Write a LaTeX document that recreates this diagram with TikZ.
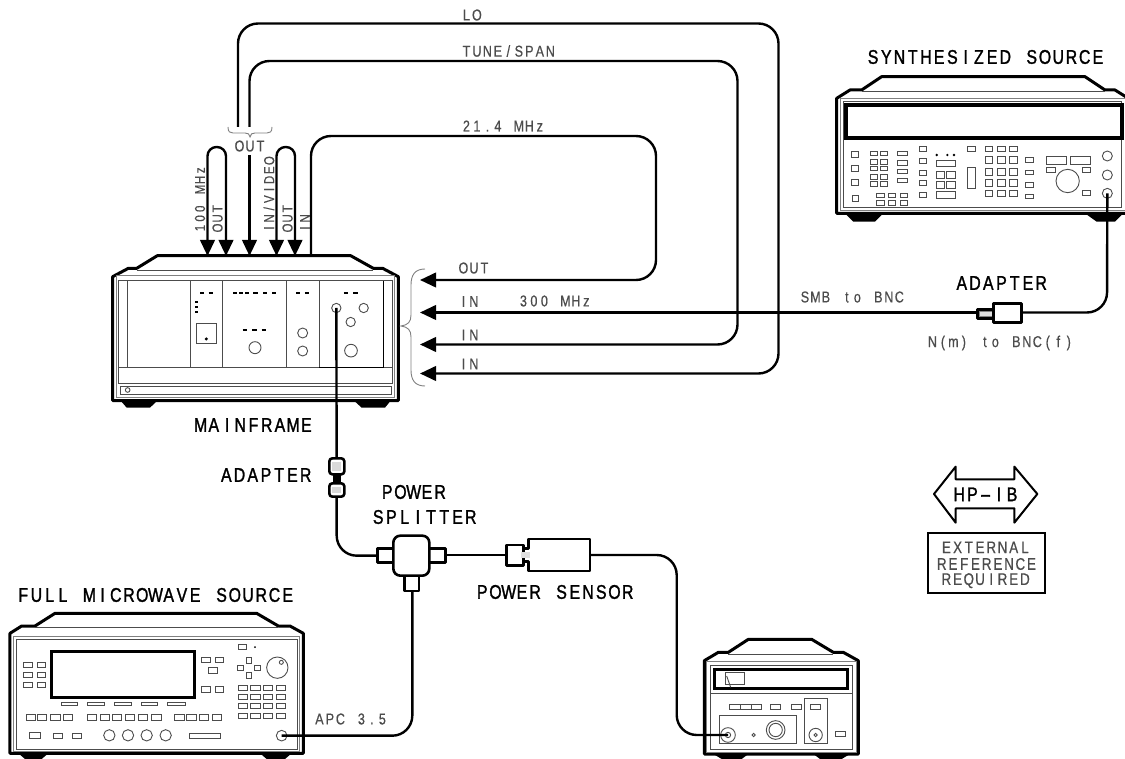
\documentclass[tikz,border=0pt]{standalone}
\usepackage{fontspec}
\setmainfont[FakeStretch=0.8,FakeBold=0.5]{Liberation Sans}
\newfontfamily\bigplotfont[FakeStretch=0.8,FakeBold=1.4]{Liberation Sans}
\usetikzlibrary{arrows.meta}
\definecolor{finegray}{gray}{0.3}
\definecolor{labgray}{gray}{0.3}
% plotter lettering: every character sits in a cell of the same width
\def\plotchars#1{\ifx#1\relax\else\makebox[0.668em][c]{#1}\expandafter\plotchars\fi}
\def\plotword#1 #2\plotend{\plotchars#1\relax\ifx\relax#2\relax\else\makebox[0.668em]{}\plotword#2\plotend\fi}
\newcommand{\plotstr}[1]{\plotword#1 \plotend}
\tikzset{
  biglab/.style={inner sep=0pt,text=black,font=\bigplotfont\fontsize{19.8}{22}\selectfont},
  smalllab/.style={inner sep=0pt,text=labgray,font=\fontsize{15.7}{18}\selectfont},
  boxlab/.style={inner sep=0pt,text=labgray,font=\fontsize{16.8}{18}\selectfont},
  leftlab/.style={smalllab,anchor=west,xshift=-1pt},
  vertlab/.style={inner sep=0pt,text=labgray,font=\fontsize{14.4}{17}\selectfont,rotate=90,anchor=west},
  casing/.style={draw=black,line width=3pt,line join=round,fill=white},
  fine/.style={draw=finegray,line width=0.9pt},
  grayline/.style={draw=gray,line width=1pt},
  footing/.style={fill=black,draw=none},
  dashmark/.style={draw=black,line width=1.9pt},
  dispframe/.style={draw=black,line width=4pt},
  cable/.style={draw=black,line width=2.4pt,line join=round},
  arrowcable/.style={cable,-{Triangle[length=16pt,width=14.5pt]}},
  bothcable/.style={cable,{Triangle[length=16pt,width=14.5pt]}-{Triangle[length=16pt,width=14.5pt]}},
  bracket/.style={draw=gray,line width=0.9pt},
  fitting/.style={draw=black,line width=2.6pt,fill=white,line join=round},
  zoomed/.style={shift={#1},x=0.33333pt,y=-0.33333pt}
}
\newcommand{\panelboxes}[1]{\foreach \a/\b/\c/\d in {#1} \draw[fine] (\a,\b) rectangle (\c,\d);}
\newcommand{\panelrings}[1]{\foreach \a/\b/\r in {#1} \draw[fine] (\a,\b) circle (\r);}
\newcommand{\paneldashes}[1]{\foreach \a/\c/\b in {#1} \draw[dashmark] (\a,\b) -- (\c,\b);}
\begin{document}
\begin{tikzpicture}[x=1pt,y=-1pt]
\useasboundingbox (0,0) rectangle (1125,759);
\clip (0,0) rectangle (1125,759);
\fill[white] (0,0) rectangle (1125,759);

% ---------- mainframe
\begin{scope}[zoomed={(100,240)}]
\fill[footing] (62,482) -- (172,482) -- (150,503) -- (80,503) -- cycle;
\fill[footing] (762,482) -- (872,482) -- (855,503) -- (785,503) -- cycle;
\draw[casing] (38,110) -- (85,85) -- (110,85) -- (172,47) -- (752,47) -- (820,85) -- (848,85) -- (895,110) -- (895,482) -- (38,482) -- cycle;
\draw[fine] (110,90) -- (820,90);
\draw[grayline] (48,108) -- (885,108) -- (885,473) -- (48,473) -- cycle;
\draw[fine] (55,122) rectangle (878,430);
\foreach \x in {82,272,367,560,658} \draw[fine] (\x,122) -- (\x,382);
\draw[fine] (55,382) -- (658,382);
\draw[fine] (658,382) -- (878,382);
\draw[draw=black,line width=1.3pt] (658,382) -- (850,382) -- (850,122);
\panelboxes{62/438/875/462, 290/250/350/310}
\panelrings{83/450/7, 465/323/18, 608/279/15, 608/333/15, 709/204/14, 791/204/14, 752/246/14, 753/332/19}
\paneldashes{300/312/160, 326/338/160, 285/295/185, 285/295/201, 285/295/217, 400/412/160, 418/430/160, 436/448/160, 460/475/160, 490/502/160, 516/528/160, 428/442/270, 457/470/270, 485/498/270, 588/600/160, 615/627/160, 732/745/160, 760/773/160}
\fill[black] (319,297) circle (5);
\coordinate (mfconn) at (709,204);
\end{scope}

% ---------- synthesized source
\begin{scope}[zoomed={(820,40)}]
\fill[footing] (75,520) -- (190,520) -- (165,545) -- (100,545) -- cycle;
\fill[footing] (795,520) -- (910,520) -- (885,545) -- (830,545) -- cycle;
\draw[casing] (50,175) -- (90,150) -- (125,150) -- (185,110) -- (795,110) -- (855,150) -- (885,150) -- (925,175) -- (925,520) -- (50,520) -- cycle;
\draw[fine] (125,155) -- (855,155);
\draw[grayline] (60,175) -- (915,175) -- (915,512) -- (60,512) -- cycle;
\draw[fine] (70,185) rectangle (905,503);
\draw[dispframe] (78,194) rectangle (905,294);
\panelboxes{93/333/115/353, 93/375/115/395, 93/417/115/437, 98/465/116/483,
150/333/172/347, 180/333/203/347, 150/358/172/372, 180/358/203/372, 150/378/172/392, 180/378/203/392, 150/403/172/417, 180/403/203/417, 150/425/172/439, 180/425/203/439,
232/335/262/347, 232/362/262/375, 232/388/262/401, 232/414/262/428,
298/320/318/335, 298/355/318/370, 298/390/318/405, 298/422/318/437, 298/458/318/473,
348/362/405/380, 350/395/373/415, 380/395/405/415, 350/425/373/445, 380/425/405/445, 348/455/405/475,
443/320/465/335, 443/383/465/445,
495/320/518/333, 532/320/555/333, 568/320/592/333,
495/350/518/370, 532/350/555/370, 568/350/592/370, 495/385/518/405, 532/385/555/405, 568/385/592/405, 495/418/518/438, 532/418/555/438, 568/418/592/438, 495/450/518/470, 532/450/555/470, 568/450/592/470,
615/352/640/366, 615/390/640/403, 615/428/640/441, 615/462/640/475,
680/350/738/372, 752/350/810/372, 680/383/705/397, 787/383/810/397, 787/450/810/465,
170/460/192/473, 205/460/227/473, 240/460/262/473, 170/482/192/497, 205/482/227/497, 240/482/262/497}
\panelrings{743/423/35, 862/348/15, 862/405/15, 862/460/15}
\foreach \x in {350,382,402} \fill[black] (\x,345) circle (4);
\coordinate (synconn) at (862,460);
\end{scope}

% ---------- full microwave source
\begin{scope}[zoomed={(0,570)}]
\fill[footing] (55,550) -- (145,550) -- (125,567) -- (75,567) -- cycle;
\fill[footing] (780,550) -- (875,550) -- (855,567) -- (800,567) -- cycle;
\draw[casing] (30,190) -- (65,168) -- (105,168) -- (165,130) -- (770,130) -- (835,168) -- (870,168) -- (910,190) -- (910,550) -- (30,550) -- cycle;
\draw[fine] (105,172) -- (835,172);
\draw[grayline] (40,198) -- (900,198) -- (900,545) -- (40,545) -- cycle;
\draw[fine] (48,207) rectangle (893,538);
\draw[draw=black,line width=3pt] (155,243) rectangle (585,381);
\panelboxes{70/277/97/291, 112/277/137/291, 70/307/97/321, 112/307/137/321, 70/337/97/351, 112/337/137/351,
605/263/632/277, 645/263/670/277, 625/293/652/309, 605/350/632/366, 645/350/670/366,
183/397/233/407, 263/397/313/407, 343/397/393/407, 423/397/473/407, 503/397/555/407,
78/433/105/450, 112/433/140/450, 150/433/180/450, 190/433/218/450,
263/433/290/450, 300/433/328/450, 337/433/365/450, 375/433/403/450, 415/433/443/450, 455/433/485/450,
523/433/552/450, 560/433/588/450, 597/433/625/450, 637/433/665/450,
88/488/120/505, 160/490/187/505, 218/490/243/505, 568/490/660/505,
715/223/740/238, 738/263/754/279, 712/287/730/302, 763/287/781/302, 738/308/754/324}
\foreach \x in {715,752,790,828} \foreach \y in {347,373,400,430} \draw[fine] (\x,\y) rectangle ++(28,15);
\panelrings{328/496/17, 384/496/17, 440/496/17, 497/496/17, 845/497/16, 832/293/32, 844/277/6}
\fill[black] (765,231) circle (3);
\coordinate (mwconn) at (845,497);
\end{scope}

% ---------- power meter
\begin{scope}[zoomed={(660,600)}]
\fill[footing] (160,462) -- (265,462) -- (245,477) -- (185,477) -- cycle;
\fill[footing] (460,462) -- (570,462) -- (545,477) -- (480,477) -- cycle;
\draw[casing] (133,182) -- (175,157) -- (205,157) -- (265,118) -- (455,118) -- (520,157) -- (550,157) -- (595,182) -- (595,462) -- (133,462) -- cycle;
\draw[fine] (205,162) -- (520,162);
\draw[grayline] (140,185) -- (588,185) -- (588,456) -- (140,456) -- cycle;
\draw[fine] (150,197) rectangle (578,448);
\draw[draw=black,line width=3pt] (163,208) rectangle (563,266);
\draw[fine] (150,280) -- (578,280);
\draw[fine] (196,217) rectangle (254,252);
\draw[fine] (200,228) -- (212,262);
\panelboxes{208/313/240/328, 242/313/274/328, 274/313/304/328, 332/313/362/328, 395/313/425/328, 452/313/482/328, 177/346/410/430, 433/295/503/430, 525/394/556/408}
\panelrings{204/405/22, 204/405/8, 281/405/5, 347/390/28, 347/390/20, 467/405/20, 467/405/5}
\coordinate (pmconn) at (204,405);
\end{scope}

% ---------- cable bundle ports
\coordinate (p100a) at (207.5,256);
\coordinate (p100b) at (226,256);
\coordinate (pA) at (207.5,147);
\coordinate (pB) at (226,147);
\coordinate (pvida) at (276.5,256);
\coordinate (pvidb) at (295,256);
\coordinate (pC) at (276.5,147);
\coordinate (pD) at (295,147);
\coordinate (pout) at (249.5,256);
\coordinate (poutf) at (249.5,155);
\coordinate (pin) at (311,256);
\coordinate (loA) at (238,127);
\coordinate (tuA) at (249.5,127);
\coordinate (inout) at (420,280);
\coordinate (in300) at (420,312.5);
\coordinate (intune) at (420,344.5);
\coordinate (inlo) at (420,373.5);
\coordinate (adL) at (977,312.5);
\coordinate (adR) at (1022,312.5);

\draw[arrowcable,rounded corners=20pt] (loA) -- (238,23.5) -- (778.5,23.5) -- (778.5,373.5) -- (inlo);
\draw[arrowcable,rounded corners=20pt] (tuA) -- (249.5,61) -- (737.5,61) -- (737.5,344.5) -- (intune);
\draw[arrowcable,rounded corners=20pt] (pin) -- (311,136) -- (656,136) -- (656,280) -- (inout);
\draw[bothcable,rounded corners=9pt] (p100a) -- (pA) -- (pB) -- (p100b);
\draw[bothcable,rounded corners=9pt] (pvida) -- (pC) -- (pD) -- (pvidb);
\draw[arrowcable] (poutf) -- (pout);
\draw[arrowcable] (adL) -- (in300);
\draw[cable,rounded corners=20pt] (adR) -- (1107,312.5) -- (synconn);

% adapter N(m) to BNC(f)
\begin{scope}[zoomed={(780,260)}]
\draw[fitting] (592,148) rectangle (640,175);
\draw[draw=gray,fill=gray!25,line width=0.6pt] (598,153) rectangle (640,170);
\draw[fitting] (640,130) rectangle (725,187);
\end{scope}

% mainframe to splitter
\begin{scope}[zoomed={(310,440)}]
\coordinate (sigA) at (80,55);
\coordinate (sigB) at (80,170);
\coordinate (spL) at (203,347);
\coordinate (spR) at (407,345);
\coordinate (spB) at (307,453);
\coordinate (senL) at (590,345);
\coordinate (senR) at (840,345);
\end{scope}
\draw[cable] (mfconn) -- (sigA);
\draw[cable,rounded corners=20pt] (sigB) -- (336.7,555.7) -- (spL);
\draw[cable] (spR) -- (senL);
\draw[cable,rounded corners=20pt] (spB) -- (412.3,735.7) -- (mwconn);
\draw[cable,rounded corners=20pt] (senR) -- (676.7,555) -- (676.7,735) -- (pmconn);

\begin{scope}[zoomed={(310,440)}]
% line adapter
\fill[black] (68,95) rectangle (92,135);
\draw[fitting,rounded corners=3pt] (58,55) rectangle (103,103);
\draw[fitting,rounded corners=3pt] (58,130) rectangle (103,170);
\fill[gray!30] (67,66) rectangle (94,92);
\fill[gray!30] (67,140) rectangle (94,160);
% splitter
\draw[fitting] (203,325) rectangle (256,367);
\draw[fitting] (352,325) rectangle (407,367);
\draw[fitting] (283,400) rectangle (327,453);
\draw[fitting,rounded corners=7pt] (250,287) rectangle (358,407);
% sensor
\draw[fitting] (590,315) rectangle (640,377);
\draw[fitting] (655,297) -- (840,297) -- (840,393) -- (655,393) -- (655,365) -- (640,365) -- (640,325) -- (655,325) -- cycle;
\draw[draw=none,fill=gray!25] (632,337) rectangle (660,353);
\end{scope}

% ---------- braces
\draw[bracket] (228,127) .. controls (228,132) and (230,133) .. (233,133) -- (245,133) .. controls (248,133) and (249.5,134) .. (250,137) .. controls (250.5,134) and (252,133) .. (255,133) -- (267,133) .. controls (270,133) and (272,132) .. (272,127);
\draw[bracket] (425,269) .. controls (415,269) and (411,275) .. (411,285) -- (411,315) .. controls (411,322) and (408,325) .. (401,326) .. controls (408,327) and (411,330) .. (411,337) -- (411,370) .. controls (411,380) and (415,386) .. (425,386);

% ---------- HP-IB
\begin{scope}[zoomed={(780,260)}]
\draw[draw=black,line width=2pt,line join=round] (462,702) -- (527,620) -- (527,658) -- (703,658) -- (703,620) -- (772,702) -- (703,788) -- (703,745) -- (527,745) -- (527,788) -- cycle;
\node[biglab] (hpib) at (617,703) {\plotstr{HP}\makebox[0.668em][c]{\scalebox{2.2}[1]{-}}\plotstr{IB}};
\draw[draw=black,line width=2pt] (443,818) rectangle (795,998);
\node[boxlab] (ext1) at (617,862) {\plotstr{EXTERNAL}};
\node[boxlab] (ext2) at (620,912) {\plotstr{REFERENCE}};
\node[boxlab] (ext3) at (617,962) {\plotstr{REQUIRED}};
\end{scope}

% ---------- big labels
\node[biglab] (tsyn) at (985.5,57) {\plotstr{SYNTHESIZED SOURCE}};
\node[biglab] (tmain) at (253.5,425) {\plotstr{MAINFRAME}};
\node[biglab] (tad1) at (1001.5,283) {\plotstr{ADAPTER}};
\node[biglab] (tad2) at (266,475) {\plotstr{ADAPTER}};
\node[biglab] (tpow) at (413.7,492) {\plotstr{POWER}};
\node[biglab] (tspl) at (424.5,517) {\plotstr{SPLITTER}};
\node[biglab] (tsen) at (555,592) {\plotstr{POWER SENSOR}};
\node[biglab] (tmw) at (155.5,595) {\plotstr{FULL MICROWAVE SOURCE}};

% ---------- small labels
\node[leftlab] (lo) at (462,15) {\plotstr{LO}};
\node[leftlab] (tune) at (462,51) {\plotstr{TUNE/SPAN}};
\node[leftlab] (m214) at (462,126) {\plotstr{21.4 MHz}};
\node[smalllab] (outb) at (250,146) {\plotstr{OUT}};
\node[vertlab] (v100) at (200,233) {\plotstr{100 MHz}};
\node[vertlab] (vout1) at (217.5,233) {\plotstr{OUT}};
\node[vertlab] (vvid) at (269,233) {\plotstr{IN/VIDEO}};
\node[vertlab] (vout2) at (287.5,233) {\plotstr{OUT}};
\node[vertlab] (vin) at (305,233) {\plotstr{IN}};
\node[leftlab] (l1) at (459,268) {\plotstr{OUT}};
\node[leftlab] (l2) at (459,301.5) {\plotstr{IN}};
\node[leftlab] (l3) at (519,301) {\plotstr{300 MHz}};
\node[leftlab] (l4) at (459,335) {\plotstr{IN}};
\node[leftlab] (l5) at (459,364) {\plotstr{IN}};
\node[leftlab] (smb) at (800.5,297) {\plotstr{SMB to BNC}};
\node[leftlab] (nbnc) at (928,343) {\plotstr{N(m) to BNC(f)}};
\node[leftlab] (apc) at (315,719) {\plotstr{APC 3.5}};
\end{tikzpicture}
\end{document}
